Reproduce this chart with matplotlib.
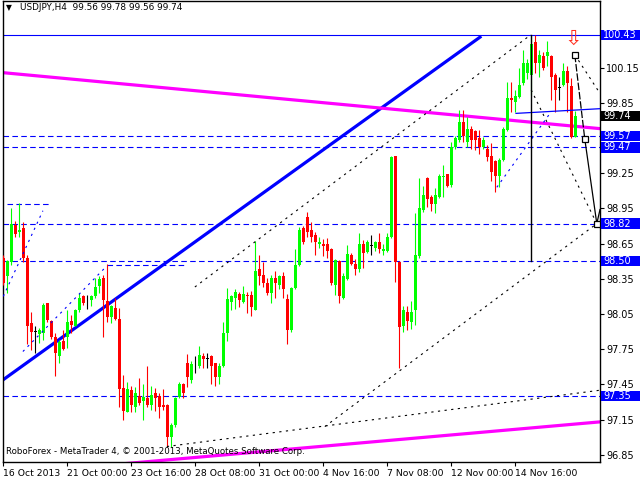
import numpy as np
import matplotlib.pyplot as plt
import matplotlib.transforms as mtransforms
from matplotlib.patches import Rectangle

# USDJPY H4 candles
opens = [98.53, 98.37, 98.49, 98.81, 98.75, 98.78, 98.53, 97.97, 97.90, 97.88,
         97.89, 98.14, 97.99, 97.85, 97.69, 97.82, 97.85, 97.99, 97.95, 98.08,
         98.20, 98.15, 98.17, 98.20, 98.29, 98.36, 98.16, 98.02, 98.10, 98.01,
         97.42, 97.21, 97.40, 97.26, 97.35, 97.31, 97.33, 97.27, 97.38, 97.35,
         97.27, 97.27, 97.00, 97.10, 97.34, 97.45, 97.63, 97.49, 97.62, 97.61,
         97.69, 97.67, 97.69, 97.63, 97.51, 97.61, 97.89, 98.15, 98.19, 98.22,
         98.15, 98.21, 98.21, 98.08, 98.43, 98.38, 98.31, 98.23, 98.36, 98.30,
         98.37, 98.18, 97.91, 98.27, 98.47, 98.78, 98.88, 98.77, 98.72, 98.65,
         98.65, 98.65, 98.60, 98.30, 98.50, 98.19, 98.35, 98.55, 98.48, 98.43,
         98.65, 98.58, 98.63, 98.61, 98.66, 98.59, 98.59, 98.71, 99.40, 98.49,
         97.95, 98.07, 97.98, 98.08, 98.54, 98.94, 99.21, 99.05, 98.99, 99.05,
         99.22, 99.24, 99.15, 99.47, 99.53, 99.69, 99.52, 99.63, 99.61, 99.55,
         99.47, 99.46, 99.40, 99.35, 99.23, 99.36, 99.62, 99.89, 99.86, 99.90,
         100.02, 100.10, 100.09, 100.37, 100.19, 100.25, 100.25, 100.25, 100.09, 99.98,
         100.00, 100.12, 99.99, 99.56]
highs = [98.55, 98.51, 98.95, 98.84, 99.00, 98.83, 98.55, 98.07, 97.95, 97.93,
         98.14, 98.14, 98.00, 97.89, 97.83, 97.91, 98.08, 98.04, 98.09, 98.23,
         98.21, 98.21, 98.21, 98.36, 98.37, 98.38, 98.48, 98.13, 98.19, 98.10,
         97.53, 97.47, 97.44, 97.43, 97.50, 97.45, 97.61, 97.44, 97.42, 97.38,
         97.41, 97.28, 97.12, 97.34, 97.47, 97.46, 97.71, 97.65, 97.69, 97.78,
         97.72, 97.72, 97.70, 97.63, 97.63, 97.98, 98.27, 98.21, 98.26, 98.24,
         98.29, 98.24, 98.25, 98.67, 98.55, 98.49, 98.36, 98.38, 98.42, 98.38,
         98.41, 98.22, 98.28, 98.60, 98.79, 98.80, 98.92, 98.83, 98.75, 98.71,
         98.69, 98.70, 98.61, 98.52, 98.51, 98.40, 98.64, 98.57, 98.52, 98.74,
         98.68, 98.68, 98.72, 98.67, 98.74, 98.65, 98.74, 99.40, 99.40, 98.50,
         98.12, 98.12, 98.16, 98.91, 99.21, 99.14, 99.22, 99.06, 99.12, 99.24,
         99.32, 99.24, 99.52, 99.57, 99.79, 99.79, 99.73, 99.65, 99.62, 99.62,
         99.56, 99.49, 99.51, 99.36, 99.38, 99.64, 100.03, 100.03, 99.96, 100.15,
         100.30, 100.22, 100.43, 100.43, 100.30, 100.28, 100.38, 100.26, 100.10, 100.07,
         100.19, 100.16, 100.06, 99.78]
lows = [98.30, 98.23, 98.47, 98.71, 98.71, 98.49, 97.79, 97.74, 97.72, 97.80,
        97.83, 97.98, 97.84, 97.52, 97.63, 97.74, 97.76, 97.89, 97.95, 98.07,
        98.13, 98.09, 98.12, 98.19, 98.23, 97.85, 97.98, 97.97, 98.00, 97.26,
        97.15, 97.21, 97.21, 97.21, 97.27, 97.15, 97.26, 97.23, 97.22, 97.16,
        97.23, 96.92, 96.92, 97.09, 97.33, 97.33, 97.43, 97.46, 97.55, 97.59,
        97.59, 97.59, 97.45, 97.44, 97.45, 97.60, 97.82, 98.08, 98.09, 98.11,
        98.14, 98.06, 98.03, 98.08, 98.30, 98.28, 98.21, 98.14, 98.19, 98.26,
        98.19, 97.79, 97.90, 98.26, 98.46, 98.65, 98.71, 98.66, 98.55, 98.61,
        98.54, 98.53, 98.30, 98.21, 98.14, 98.18, 98.34, 98.47, 98.38, 98.41,
        98.44, 98.57, 98.55, 98.59, 98.57, 98.55, 98.58, 98.70, 98.32, 97.59,
        97.90, 97.91, 97.92, 97.96, 98.53, 98.92, 98.96, 98.93, 98.91, 99.04,
        99.05, 99.13, 99.13, 99.46, 99.52, 99.52, 99.47, 99.46, 99.45, 99.41,
        99.46, 99.35, 99.18, 99.09, 99.13, 99.35, 99.61, 99.77, 99.77, 99.89,
        100.00, 100.05, 99.92, 100.10, 100.07, 100.13, 100.16, 99.87, 99.77, 99.87,
        99.99, 99.77, 99.55, 99.56]
closes = [98.31, 98.50, 98.82, 98.73, 98.77, 98.53, 97.95, 97.90, 97.90, 97.91,
          98.13, 98.00, 97.85, 97.72, 97.81, 97.75, 97.98, 97.96, 98.08, 98.19,
          98.14, 98.15, 98.20, 98.28, 98.35, 98.17, 98.02, 98.12, 98.01, 97.41,
          97.22, 97.41, 97.27, 97.38, 97.29, 97.34, 97.27, 97.36, 97.33, 97.26,
          97.26, 97.00, 97.10, 97.33, 97.45, 97.38, 97.51, 97.62, 97.62, 97.70,
          97.67, 97.67, 97.61, 97.51, 97.61, 97.89, 98.18, 98.20, 98.24, 98.17,
          98.22, 98.20, 98.11, 98.42, 98.37, 98.31, 98.23, 98.36, 98.31, 98.37,
          98.26, 97.91, 98.27, 98.47, 98.77, 98.66, 98.75, 98.71, 98.66, 98.66,
          98.63, 98.59, 98.31, 98.51, 98.20, 98.37, 98.56, 98.48, 98.43, 98.65,
          98.57, 98.66, 98.63, 98.66, 98.60, 98.60, 98.71, 99.39, 98.49, 97.94,
          98.08, 97.99, 98.07, 98.55, 98.95, 99.06, 99.03, 98.99, 99.06, 99.23,
          99.23, 99.14, 99.47, 99.55, 99.69, 99.57, 99.63, 99.53, 99.53, 99.47,
          99.53, 99.39, 99.26, 99.23, 99.36, 99.63, 99.89, 99.87, 99.91, 100.00,
          100.19, 100.19, 100.35, 100.19, 100.26, 100.15, 100.28, 100.07, 99.96, 99.98,
          100.12, 100.02, 99.56, 99.74]

tick_bars = [0, 16, 32, 48, 64, 80, 96, 112, 128]
tick_names = ["16 Oct 2013", "21 Oct 00:00", "23 Oct 16:00", "28 Oct 08:00",
              "31 Oct 00:00", "4 Nov 16:00", "7 Nov 08:00", "12 Nov 00:00",
              "14 Nov 16:00"]
price_ticks = [96.85, 97.15, 97.45, 97.75, 98.05, 98.35, 98.65, 98.95, 99.25,
               99.85, 100.15]
dash_levels = [99.57, 99.47, 98.82, 98.50, 97.35]
top_level = 100.43
last_price = 99.74

# drawn objects: (bars, prices)
blue_trend = ([0, 119.2], [97.49, 100.41])
magenta_upper = ([-1, 149.2], [100.11, 99.63])
magenta_lower = ([-1, 149.2], [96.68, 97.13])
channel_upper = ([47.9, 131.9], [98.28, 100.43])
channel_lower = ([80.4, 148.4], [97.09, 98.82])
support_line = ([40.9, 149.2], [96.92, 97.40])
left_up1 = ([0, 9.9], [98.20, 98.93])
left_up2 = ([4.9, 25.9], [97.73, 98.46])
fan_down = ([132, 148.4], [99.96, 98.82])
fan_right = ([142.9, 149.2], [100.26, 99.93])
blue_thin = ([128.2, 149.2], [99.76, 99.80])
blue_dots = ([123.4, 136.7], [99.13, 99.76])
short_top = ([1, 12], [98.99, 98.99])
short_mid = ([26, 45.4], [98.47, 98.47])
path_bars = [142.9, 145.4, 148.4, 149.2]
path_prices = [100.26, 99.54, 98.82, 98.94]
vert_bar = 132
vert_prices = [100.43, 98.50]

plt.rcParams['font.family'] = 'DejaVu Sans'
fig = plt.figure(figsize=(6.4, 4.8), dpi=100)
ax = fig.add_axes([3 / 640, 18 / 480, 597 / 640, 461 / 480])

x = np.arange(len(opens))
o = np.array(opens)
c = np.array(closes)
cols = np.where(c > o, '#00ff00', np.where(c < o, '#ff0000', '#000000'))
ax.vlines(x, lows, highs, colors=cols, linewidth=0.8, zorder=3)
body = np.maximum(np.abs(c - o), 0.006)
ax.bar(x, body, bottom=np.minimum(o, c), width=0.72, color=cols, linewidth=0, zorder=4)

dash = (0, (5, 3))
for lv in dash_levels:
    ax.axhline(lv, color='#0000ff', linewidth=0.8, linestyle=dash, zorder=2)
ax.axhline(top_level, color='#0000ff', linewidth=0.8, zorder=2)
for seg in (short_top, short_mid):
    ax.plot(seg[0], seg[1], color='#0000ff', linewidth=0.8, linestyle=dash, zorder=2)

ax.plot(*blue_trend, color='#0000ff', linewidth=2.3, zorder=2)
ax.plot(*magenta_upper, color='#ff00ff', linewidth=2.3, zorder=2)
ax.plot(*magenta_lower, color='#ff00ff', linewidth=2.3, zorder=2)
dot = (0, (2, 4))
for seg in (channel_upper, channel_lower, support_line, fan_down, fan_right):
    ax.plot(seg[0], seg[1], color='black', linewidth=0.8, linestyle=dot, zorder=5)
for seg in (left_up1, left_up2, blue_dots):
    ax.plot(seg[0], seg[1], color='#0000ff', linewidth=0.8, linestyle=dot, zorder=5)
ax.plot(*blue_thin, color='#0000ff', linewidth=0.9, zorder=5)
ax.plot([vert_bar, vert_bar], vert_prices, color='black', linewidth=1.0, zorder=5)
ax.plot(path_bars[:2], path_prices[:2], color='black', linewidth=0.9,
        linestyle=(0, (6, 1.5)), zorder=6)
ax.plot(path_bars[1:], path_prices[1:], color='black', linewidth=0.9, zorder=6)
ax.plot(path_bars[:3], path_prices[:3], linestyle='none', marker='s', ms=4.5,
        mfc='white', mec='black', mew=0.9, zorder=7)
ax.text(path_bars[0] - 0.5, path_prices[0] + 0.05, '\u21e9', color='#ff3020',
        fontsize=15, ha='center', va='bottom', zorder=7)

ax.set_xlim(-0.075, 149.2)
ax.set_ylim(96.788, 100.718)
ax.yaxis.tick_right()
ax.set_yticks(price_ticks)
ax.set_yticklabels(['%.2f' % v for v in price_ticks])
ax.tick_params(axis='y', labelsize=7, length=3, pad=1.5, width=0.8)
ax.set_xticks(tick_bars)
ax.set_xticklabels(tick_names, ha='left')
ax.tick_params(axis='x', labelsize=6.7, length=3, pad=2, width=0.8)
for sp in ax.spines.values():
    sp.set_linewidth(1.0)

trans = mtransforms.blended_transform_factory(ax.transAxes, ax.transData)
boxes = [(top_level, '#0000ff')] + [(lv, '#0000ff') for lv in dash_levels] + [(last_price, '#000000')]
for lv, fc in boxes:
    ax.add_patch(Rectangle((1.0017, lv - 0.044), 0.066, 0.088, transform=trans,
                           facecolor=fc, edgecolor='none', clip_on=False, zorder=8))
    ax.text(1.0055, lv, '%.2f' % lv, transform=trans, color='white', fontsize=7,
            va='center', ha='left', clip_on=False, zorder=9)

fig.text(9 / 640, 1 - 8 / 480, '\u25bc', fontsize=5.5, va='center', ha='center')
fig.text(20 / 640, 1 - 8 / 480, 'USDJPY,H4  99.56 99.78 99.56 99.74', fontsize=6.4,
         va='center', ha='left')
fig.text(6 / 640, 1 - 452 / 480,
         'RoboForex - MetaTrader 4, \u00a9 2001-2013, MetaQuotes Software Corp.',
         fontsize=6.2, va='center', ha='left', zorder=10)

fig.savefig('out.png', dpi=100)
